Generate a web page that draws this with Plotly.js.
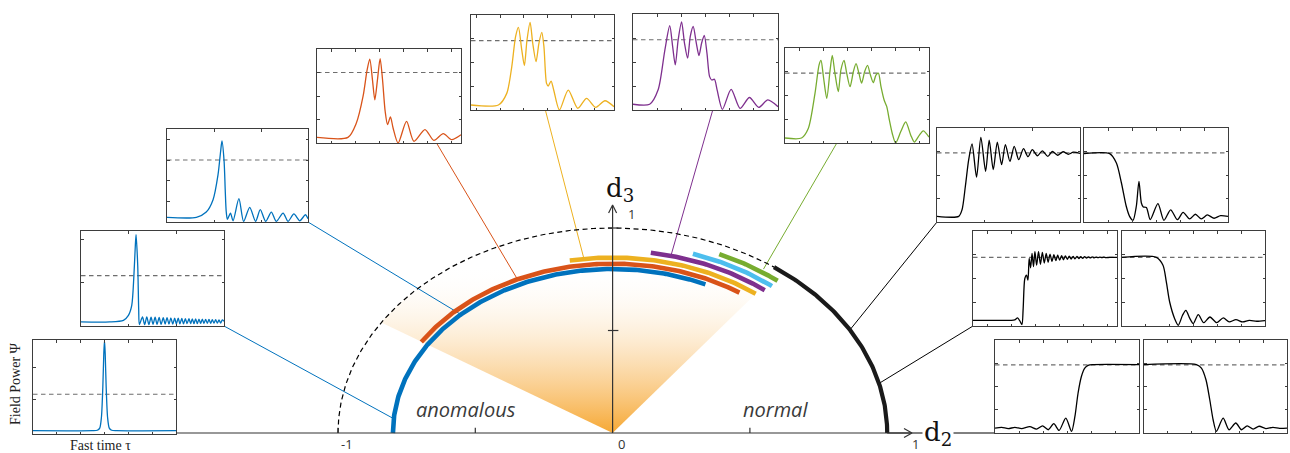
<!DOCTYPE html>
<html>
<head>
<meta charset="utf-8">
<script src="https://cdn.plot.ly/plotly-3.0.1.min.js"></script>
<style>
html,body{margin:0;padding:0;background:#ffffff;}
#chart{width:1290px;height:453px;}
</style>
</head>
<body>
<div id="chart"></div>
<script>
// ================= DATA =================
// Main diagram: arcs in the (d2, d3) plane
const arcRadius   = [1.0, 1.0, 0.800, 0.826, 0.856, 0.890, 0.922, 0.955];
const arcStartDeg = [180, 54, 180, 147.5, 100.5, 81, 71.5, 66];
const arcEndDeg   = [54, 0, 65, 56, 52.5, 51.5, 51, 51];
const wedgeDeg = [147.4, 52.5];
const wedgeRadius = 1.0;
const d2Ticks = [-1, -0.5, 0.5];
const d3Ticks = [0.5, 1];
const d2TickLabels = ['-1', '0', '1'];
const d3TickLabels = ['1'];
const regimeLabels = ['anomalous', 'normal'];

// connectors: which inset -> which arc point (radius, angle in degrees)
const connInset = [1, 2, 3, 4, 5, 6, 7, 9, 11];
const connR     = [0.80, 0.80, 0.826, 0.856, 0.890, 0.970, 1.0, 1.0, 1.0];
const connDeg   = [175, 133.7, 114.8, 97, 76.2, 55.5, 30.2, 14, 0];

// Inset waveforms (fast time tau, field power psi)
const solitonX = [0, 2.5, 2.7, 2.8, 2.87, 2.93, 2.97, 3.0, 3.03, 3.07, 3.13, 3.2, 3.3, 3.5, 6];
const solitonY = [0.14, 0.14, 0.16, 0.25, 0.7, 2.0, 3.4, 3.98, 3.4, 2.0, 0.7, 0.25, 0.16, 0.14, 0.14];

const chirpX = [0, 1.2, 1.78, 1.99, 2.13, 2.22, 2.28, 2.31, 2.38, 2.42, 2.45,
  2.58, 2.67, 2.76, 2.85, 2.94, 3.02, 3.11, 3.19, 3.28, 3.36, 3.45, 3.53, 3.61, 3.69, 3.77, 3.85,
  3.93, 4.0, 4.08, 4.15, 4.23, 4.3, 4.38, 4.45, 4.53, 4.6, 4.67, 4.74, 4.81, 4.88, 4.95, 5.02,
  5.09, 5.16, 5.23, 5.3, 5.37, 5.44, 5.51, 5.58, 5.65, 5.72, 5.79, 5.86, 5.93, 6.0];
const chirpY = [0.17, 0.17, 0.24, 0.45, 0.87, 2.13, 3.4, 3.85, 2.55, 0.73, 0.06,
  0.38, 0.06, 0.38, 0.06, 0.37, 0.07, 0.37, 0.07, 0.36, 0.07, 0.35, 0.08, 0.35, 0.08, 0.34, 0.08,
  0.33, 0.09, 0.33, 0.09, 0.32, 0.09, 0.31, 0.1, 0.31, 0.1, 0.3, 0.1, 0.3, 0.1, 0.29, 0.11,
  0.29, 0.11, 0.28, 0.11, 0.28, 0.11, 0.27, 0.12, 0.27, 0.12, 0.26, 0.12, 0.26, 0.2];

const breatherX = [0, 1.25, 1.67, 1.96, 2.17, 2.28, 2.34, 2.43, 2.48, 2.52, 2.57, 2.7, 2.81, 3.06, 3.26,
  3.52, 3.77, 3.97, 4.2, 4.44, 4.65, 4.94, 5.15, 5.4, 5.65, 5.89, 6];
const breatherY = [0.225, 0.225, 0.48, 1.08, 2.28, 3.4, 3.92, 2.93, 1.48, 0.51, 0.13, 0.43, 0.06, 1.13, 0.03,
  0.71, 0.03, 0.6, 0.03, 0.48, 0.03, 0.43, 0.03, 0.39, 0.06, 0.35, 0.16];

const redX = [0, 1.29, 1.64, 1.92, 2.09, 2.2, 2.31, 2.41, 2.52, 2.63, 2.73, 2.84, 2.94, 3.06, 3.17, 3.38,
  3.73, 4.04, 4.5, 4.87, 5.26, 5.61, 6];
const redY = [0.24, 0.24, 0.85, 1.99, 3.12, 3.57, 2.7, 1.84, 2.7, 3.59, 2.7, 1.35, 0.78, 1.11, 0.64, 0.0,
  0.92, 0.07, 0.57, 0.11, 0.4, 0.14, 0.35];

const yellowX = [0, 1.15, 1.5, 1.71, 1.87, 1.99, 2.13, 2.24, 2.35, 2.48, 2.59, 2.73, 2.85, 2.97, 3.06,
  3.17, 3.24, 3.36, 3.47, 3.71, 4.08, 4.48, 4.85, 5.23, 5.62, 6];
const yellowY = [0.21, 0.21, 0.7, 1.82, 3.09, 3.48, 2.53, 1.87, 2.95, 3.69, 2.81, 2.04, 2.81, 3.27, 2.67,
  1.12, 1.01, 1.22, 0.84, 0.0, 0.84, 0.07, 0.49, 0.11, 0.39, 0.14];

const purpleX = [0, 0.69, 1.04, 1.32, 1.52, 1.64, 1.75, 1.87, 2.01, 2.13, 2.26, 2.37, 2.49, 2.62, 2.73,
  2.84, 2.95, 3.06, 3.17, 3.26, 3.37, 3.48, 3.7, 4.06, 4.43, 4.82, 5.2, 5.58, 6];
const purpleY = [0.24, 0.24, 0.84, 2.51, 3.51, 2.65, 1.88, 2.93, 3.67, 2.79, 2.16, 3.07, 3.48, 2.79, 2.27,
  2.79, 3.11, 2.37, 1.39, 1.25, 1.28, 0.84, 0.03, 0.86, 0.07, 0.52, 0.11, 0.42, 0.14];

const greenX = [0, 0.69, 0.97, 1.25, 1.42, 1.5, 1.6, 1.74, 1.88, 1.97, 2.08, 2.22, 2.33, 2.46, 2.57, 2.71,
  2.85, 2.96, 3.08, 3.19, 3.32, 3.44, 3.56, 3.68, 3.79, 3.89, 4.0, 4.13, 4.24, 4.35, 4.47, 4.61, 4.82,
  5.03, 5.24, 5.39, 5.6, 5.76, 6];
const greenY = [0.21, 0.21, 0.61, 2.09, 3.29, 3.48, 2.8, 1.88, 3.08, 3.69, 2.94, 2.16, 3.08, 3.48, 2.94, 2.37,
  3.01, 3.34, 2.94, 2.52, 3.01, 3.27, 2.86, 2.54, 2.86, 2.94, 2.37, 1.81, 1.53, 0.96, 0.4, 0.0, 0.47,
  0.89, 0.33, 0.04, 0.33, 0.51, 0.25];

const riseAX = [0, 0.91, 1.05, 1.19, 1.33, 1.47, 1.66, 1.84, 2.04, 2.19, 2.36, 2.53, 2.71, 2.87, 3.06,
  3.24, 3.43, 3.63, 3.82, 4.0, 4.21, 4.42, 4.65, 4.84, 5.06, 5.29, 5.51, 5.72, 6];
const riseAY = [0.24, 0.24, 0.52, 1.52, 2.65, 3.32, 1.91, 3.6, 2.16, 3.48, 2.23, 3.4, 2.44, 3.29, 2.58,
  3.22, 2.65, 3.12, 2.78, 3.08, 2.82, 3.03, 2.79, 3.0, 2.84, 2.99, 2.88, 2.97, 2.92];

const fallAX = [0, 1.07, 1.35, 1.56, 1.76, 1.9, 2.04, 2.18, 2.29, 2.39, 2.47, 2.6, 2.76, 3.08, 3.33,
  3.61, 3.89, 4.13, 4.4, 4.64, 4.89, 5.14, 5.42, 5.69, 6];
const fallAY = [2.91, 2.91, 2.51, 1.66, 0.67, 0.24, 0.07, 0.67, 1.73, 0.81, 0.64, 0.62, 0.1, 0.78, 0.07,
  0.52, 0.1, 0.41, 0.13, 0.33, 0.13, 0.3, 0.16, 0.27, 0.24];

const riseBX = [0, 1.6, 1.74, 1.86, 1.97, 2.04, 2.09, 2.16, 2.23, 2.29, 2.34, 2.4, 2.46, 2.52, 2.58,
  2.65, 2.73, 2.81, 2.89, 2.97, 3.05, 3.13, 3.21, 3.29, 3.37, 3.45, 3.53, 3.61, 3.69, 3.77, 3.85, 3.93,
  4.01, 4.09, 4.17, 4.25, 4.33, 4.41, 4.49, 4.57, 4.65, 4.73, 4.81, 4.89, 4.97, 5.05, 5.13, 5.21, 5.29,
  5.37, 5.45, 5.53, 5.7, 6.0];
const riseBY = [0.24, 0.24, 0.26, 0.34, 0.18, 0.06, 0.73, 2.0, 2.14, 1.93, 2.85, 2.45, 3.06, 2.5, 3.13,
  2.56, 3.13, 2.6, 3.1, 2.65, 3.06, 2.68, 3.03, 2.72, 3.0, 2.75, 2.98, 2.77, 2.96, 2.79, 2.95, 2.81,
  2.94, 2.82, 2.93, 2.83, 2.93, 2.84, 2.92, 2.85, 2.92, 2.86, 2.91, 2.87, 2.91, 2.87, 2.9, 2.88, 2.9,
  2.88, 2.9, 2.88, 2.89, 2.89];

const fallBX = [0, 1.44, 1.72, 1.86, 2.0, 2.21, 2.36, 2.54, 2.68, 2.85, 2.99, 3.2, 3.43, 3.69, 3.97,
  4.25, 4.5, 4.78, 5.06, 5.34, 5.65, 6];
const fallBY = [2.89, 2.89, 2.56, 1.86, 1.01, 0.31, 0.03, 0.45, 0.66, 0.31, 0.1, 0.48, 0.14, 0.38, 0.14,
  0.34, 0.17, 0.27, 0.17, 0.24, 0.2, 0.23];

const riseCX = [0, 0.28, 0.55, 0.83, 1.11, 1.45, 1.73, 1.98, 2.22, 2.45, 2.67, 2.95, 3.19, 3.33, 3.46,
  3.6, 3.74, 3.88, 4.09, 6];
const riseCY = [0.21, 0.24, 0.19, 0.24, 0.19, 0.27, 0.17, 0.31, 0.14, 0.4, 0.11, 0.64, 0.07, 0.71, 1.71,
  2.43, 2.79, 2.91, 2.94, 2.94];

const fallCX = [0, 2.2, 2.41, 2.6, 2.76, 2.9, 3.04, 3.32, 3.57, 3.85, 4.09, 4.33, 4.58, 4.83, 5.11,
  5.41, 5.69, 6];
const fallCY = [2.94, 2.94, 2.79, 2.29, 1.43, 0.57, 0.07, 0.64, 0.14, 0.43, 0.14, 0.31, 0.17, 0.29, 0.19,
  0.24, 0.2, 0.21];

const insetSeriesX = [solitonX, chirpX, breatherX, redX, yellowX, purpleX, greenX, riseAX, fallAX, riseBX, fallBX, riseCX, fallCX];
const insetSeriesY = [solitonY, chirpY, breatherY, redY, yellowY, purpleY, greenY, riseAY, fallAY, riseBY, fallBY, riseCY, fallCY];
const insetDashLevel = [1.69, 2.12, 3, 3, 2.92, 2.93, 2.94, 2.94, 2.94, 2.89, 2.89, 2.93, 2.93];
const insetYTicks = [[1.45, 2.82], [1.82, 3.64], [1, 2, 3, 4], [1, 2, 3], [1, 2, 3], [1, 2, 3], [1, 2, 3],
  [1, 2, 3], [1, 2, 3], [1, 2, 3], [1, 2, 3], [1, 2, 3], [1, 2, 3]];
const insetYMax = [4, 4, 4.5, 4, 4, 4, 4, 4, 4, 4, 4, 4, 4];
const insetXTicks = [[1, 2, 3, 4, 5], [2, 4], [2, 4], [0.6, 1.6, 2.6, 3.6, 4.6, 5.6],
  [0.24, 1.22, 2.22, 3.22, 4.22, 5.2], [1, 2, 3, 4, 5], [0.62, 1.62, 2.62, 3.62, 4.62, 5.62],
  [2, 4], [1, 2, 3, 4, 5], [0.59, 1.59, 2.59, 3.59, 4.59, 5.59], [1, 2, 3, 4, 5], [1, 2, 3, 4, 5], [1, 2, 3, 4, 5]];

// ================= LAYOUT / STYLE =================
const W = 1290, H = 453;
const OX = 612.6, OY = 433, SX = 274.6, SY = 205;   // main diagram pixel frame
const px2x = p => (p - OX) / SX;
const py2y = p => (OY - p) / SY;

const arcStyle = [
  {color: '#000000', width: 1.2, dash: '5px,3.5px'},
  {color: '#1a1a1a', width: 4.2},
  {color: '#0072BD', width: 4.6},
  {color: '#D95319', width: 4.6},
  {color: '#EDB120', width: 4.6},
  {color: '#7E2F8E', width: 4.6},
  {color: '#4DBEEE', width: 4.6},
  {color: '#77AC30', width: 4.6}
];
const insetColor = ['#0072BD', '#0072BD', '#0072BD', '#D95319', '#EDB120', '#7E2F8E', '#77AC30',
  '#000000', '#000000', '#000000', '#000000', '#000000', '#000000'];
const connColor = ['#0072BD', '#0072BD', '#D95319', '#EDB120', '#7E2F8E', '#77AC30', '#000000', '#000000', '#000000'];
const connAnchor = ['br', 'br', 0.83, 0.52, 0.55, 0.36, 'bl', 'bl', 'bl'];
// inset boxes in pixels: left, top, right, bottom
const insetBox = [
  [33, 340, 176, 434], [81, 231, 224, 326], [167, 129, 308, 222], [317, 49, 461, 143],
  [471, 15, 614, 110], [633, 14, 778, 110], [785, 48, 929, 143], [937, 128, 1080, 222],
  [1084, 128, 1228, 222], [973, 231, 1117, 326], [1122, 231, 1265, 326], [995, 340, 1139, 433],
  [1144, 340, 1287, 433]
];

function arcPoints(r, a0, a1) {
  const n = Math.max(2, Math.ceil(Math.abs(a1 - a0) / 0.5));
  const xs = [], ys = [];
  for (let k = 0; k <= n; k++) {
    const a = (a0 + (a1 - a0) * k / n) * Math.PI / 180;
    xs.push(r * Math.cos(a)); ys.push(r * Math.sin(a));
  }
  return {xs, ys};
}

const traces = [];

// gradient wedge
{
  const p = arcPoints(wedgeRadius, wedgeDeg[0], wedgeDeg[1]);
  traces.push({
    type: 'scatter', mode: 'lines', xaxis: 'x', yaxis: 'y',
    x: [0].concat(p.xs, [0]), y: [0].concat(p.ys, [0]),
    fill: 'toself', line: {width: 0, color: 'rgba(0,0,0,0)'},
    fillgradient: {type: 'vertical', start: 0, stop: 0.82,
      colorscale: [[0, 'rgba(246,168,52,1)'], [0.45, 'rgba(249,196,120,0.5)'], [1, 'rgba(255,255,255,0)']]},
    hoverinfo: 'skip', showlegend: false
  });
}

// connectors (under arcs)
connInset.forEach((ii, k) => {
  const b = insetBox[ii];
  let px, py;
  const a = connAnchor[k];
  if (a === 'br') { px = b[2]; py = b[3]; }
  else if (a === 'bl') { px = b[0]; py = b[3]; }
  else { px = b[0] + a * (b[2] - b[0]); py = b[3]; }
  const ang = connDeg[k] * Math.PI / 180;
  traces.push({
    type: 'scatter', mode: 'lines', xaxis: 'x', yaxis: 'y',
    x: [px2x(px), connR[k] * Math.cos(ang)], y: [py2y(py), connR[k] * Math.sin(ang)],
    line: {color: connColor[k], width: 1}, hoverinfo: 'skip', showlegend: false
  });
});

// arcs
arcRadius.forEach((r, i) => {
  const p = arcPoints(r, arcStartDeg[i], arcEndDeg[i]);
  traces.push({
    type: 'scatter', mode: 'lines', xaxis: 'x', yaxis: 'y', x: p.xs, y: p.ys,
    line: arcStyle[i], hoverinfo: 'skip', showlegend: false
  });
});

// axis lines, arrow heads & ticks
traces.push({
  type: 'scatter', mode: 'lines', xaxis: 'x', yaxis: 'y',
  x: [px2x(176), px2x(911)], y: [0, 0],
  line: {color: '#333333', width: 1.2}, hoverinfo: 'skip', showlegend: false
});
traces.push({
  type: 'scatter', mode: 'lines', xaxis: 'x', yaxis: 'y',
  x: [0, 0], y: [0, py2y(206)],
  line: {color: '#333333', width: 1.2}, hoverinfo: 'skip', showlegend: false
});
traces.push({
  type: 'scatter', mode: 'lines', xaxis: 'x', yaxis: 'y',
  x: [px2x(904), px2x(912), px2x(904), null, px2x(OX - 4), px2x(OX), px2x(OX + 4)],
  y: [py2y(OY - 4.5), 0, py2y(OY + 4.5), null, py2y(213), py2y(205), py2y(213)],
  line: {color: '#333333', width: 1.2}, hoverinfo: 'skip', showlegend: false
});
{
  const tx = [], ty = [];
  d2Ticks.forEach(v => { tx.push(v, v, null); ty.push(0, 0.026, null); });
  d3Ticks.forEach(v => { tx.push(-0.017, 0.021, null); ty.push(v, v, null); });
  traces.push({
    type: 'scatter', mode: 'lines', xaxis: 'x', yaxis: 'y', x: tx, y: ty,
    line: {color: '#333333', width: 1.2}, hoverinfo: 'skip', showlegend: false
  });
}

// insets
const layout = {
  width: W, height: H,
  margin: {l: 0, r: 0, t: 0, b: 0, pad: 0},
  paper_bgcolor: '#ffffff', plot_bgcolor: 'rgba(0,0,0,0)',
  showlegend: false,
  xaxis: {domain: [0, 1], range: [px2x(0), px2x(W)], visible: false, fixedrange: true},
  yaxis: {domain: [0, 1], range: [py2y(H), py2y(0)], visible: false, fixedrange: true},
  annotations: [], shapes: []
};

insetBox.forEach((b, i) => {
  const n = i + 2;
  const xa = 'xaxis' + n, ya = 'yaxis' + n;
  const common = {
    showline: true, mirror: 'ticks', linecolor: '#3d3d3d', linewidth: 1.2,
    ticks: 'inside', ticklen: 2.5, tickwidth: 1, tickcolor: '#3d3d3d',
    showticklabels: false, showgrid: false, zeroline: false, fixedrange: true
  };
  layout[xa] = Object.assign({}, common, {
    domain: [b[0] / W, b[2] / W], range: [0, 6], anchor: 'y' + n, tickmode: 'array', tickvals: insetXTicks[i]
  });
  layout[ya] = Object.assign({}, common, {
    domain: [(H - b[3]) / H, (H - b[1]) / H], range: [0, insetYMax[i]], anchor: 'x' + n,
    tickmode: 'array', tickvals: insetYTicks[i]
  });
  traces.push({
    type: 'scatter', mode: 'lines', xaxis: 'x' + n, yaxis: 'y' + n,
    x: [0, 6], y: [insetDashLevel[i], insetDashLevel[i]],
    line: {color: '#6e6e6e', width: 1.1, dash: '4.5px,3.5px'}, hoverinfo: 'skip', showlegend: false
  });
  traces.push({
    type: 'scatter', mode: 'lines', xaxis: 'x' + n, yaxis: 'y' + n,
    x: insetSeriesX[i], y: insetSeriesY[i],
    line: {color: insetColor[i], width: 1.3, shape: 'spline', smoothing: 0.75},
    hoverinfo: 'skip', showlegend: false
  });
});

// annotations
const pxp = p => p / W, pyp = p => 1 - p / H;
const ann = (x, y, text, font, extra) => Object.assign({
  xref: 'paper', yref: 'paper', x: pxp(x), y: pyp(y), text: text, showarrow: false,
  xanchor: 'center', yanchor: 'middle', font: Object.assign({}, font)
}, extra || {});
const tickFont = {family: 'Open Sans, sans-serif', size: 13, color: '#333333'};
const serif = {family: 'DejaVu Serif, serif', size: 26, color: '#111111'};

layout.annotations.push(ann(347, 444, d2TickLabels[0], tickFont));
layout.annotations.push(ann(621, 444, d2TickLabels[1], tickFont));
layout.annotations.push(ann(915, 444, d2TickLabels[2], tickFont));
layout.annotations.push(ann(631, 214, d3TickLabels[0], tickFont));
layout.annotations.push(ann(620, 189, 'd<sub>3</sub>', serif));
layout.annotations.push(ann(938, 433, 'd<sub>2</sub>', serif, {bgcolor: '#ffffff', borderpad: 1}));
const italicFont = {family: 'Open Sans, sans-serif', size: 20, color: '#3a3a3a'};
layout.annotations.push(ann(466, 409, '<i>' + regimeLabels[0] + '</i>', italicFont));
layout.annotations.push(ann(775, 409, '<i>' + regimeLabels[1] + '</i>', italicFont));
const labelFont = {family: 'Liberation Serif, serif', size: 14, color: '#222222'};
layout.annotations.push(ann(100, 445, 'Fast time τ', labelFont));
layout.annotations.push(ann(15, 384, 'Field Power Ψ', labelFont, {textangle: -90}));

Plotly.newPlot('chart', traces, layout, {staticPlot: true, displayModeBar: false});
</script>
</body>
</html>
